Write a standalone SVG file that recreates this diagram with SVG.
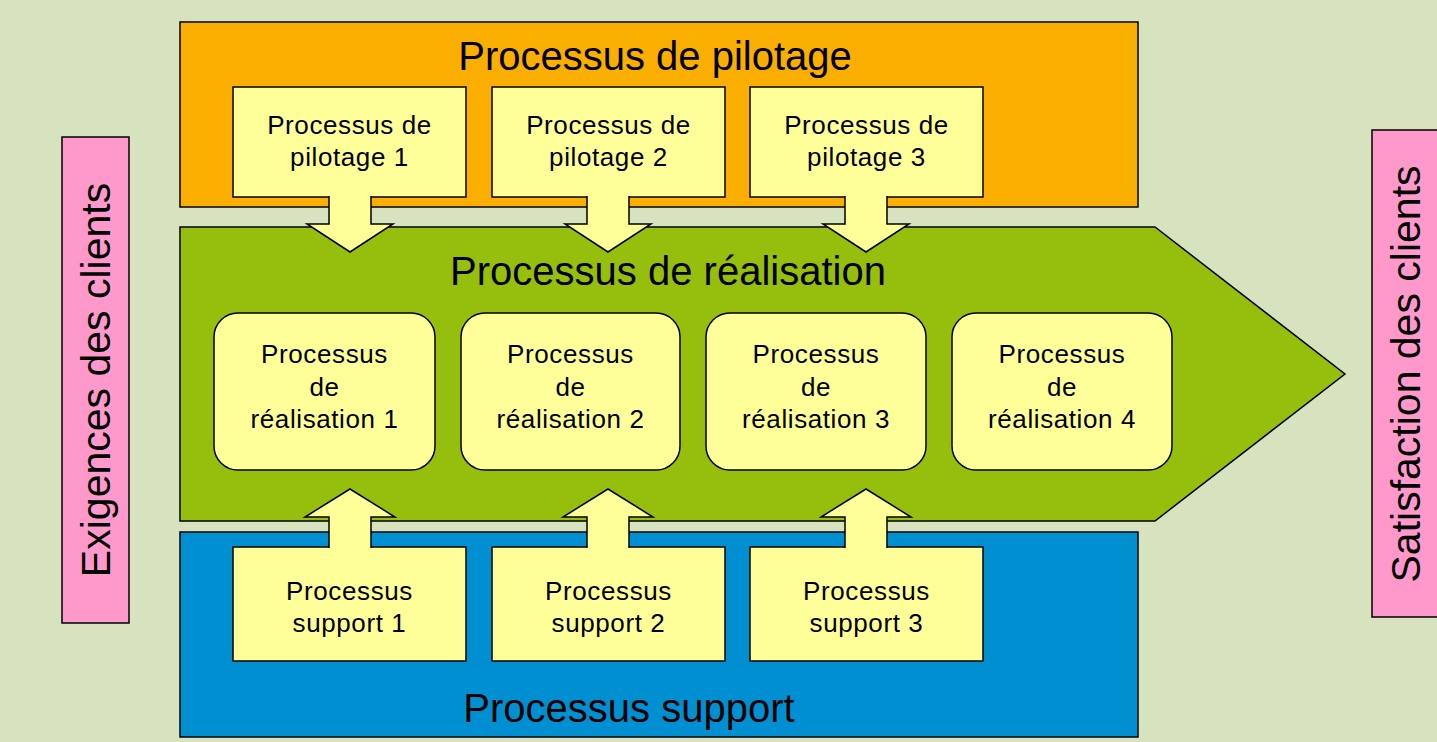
<svg xmlns="http://www.w3.org/2000/svg" width="1437" height="742" viewBox="0 0 1437 742">
<style>
text{font-family:"Liberation Sans",Arial,sans-serif;fill:#000;text-anchor:middle}
.ln{stroke:#000;stroke-width:1.5}
.yel{fill:#FFFF99}
.big{font-size:40px}
.sm{font-size:26px;letter-spacing:0.6px}
.side{font-size:41px}
.arr{fill:#FFFF99;stroke:#000;stroke-width:1.5;stroke-linejoin:miter}
</style>
<rect x="0" y="0" width="1437" height="742" fill="#D7E3BF"/>

<g id="exigences">
<rect class="ln" x="62" y="137" width="67" height="486" fill="#FF99CC"/>
<text class="side" transform="translate(110,380) rotate(-90)">Exigences des clients</text>
</g>
<g id="satisfaction">
<rect class="ln" x="1372" y="130" width="80" height="487" fill="#FF99CC"/>
<text class="side" transform="translate(1420,374) rotate(-90)">Satisfaction des clients</text>
</g>

<g id="pilotage">
<rect class="ln" x="180" y="22" width="958" height="185" fill="#F9AE00"/>
<text class="big" x="655" y="70">Processus de pilotage</text>
</g>
<g id="realisation">
<polygon class="ln" points="180,227 1155,227 1345,374 1155,521 180,521" fill="#96BE0D"/>
<text class="big" x="668" y="285">Processus de réalisation</text>
</g>
<g id="support">
<rect class="ln" x="180" y="532" width="958" height="205" fill="#0090D2"/>
<text class="big" x="629" y="722">Processus support</text>
</g>

<g id="pilotage1"><rect class="ln yel" x="233" y="87" width="233" height="110"/><text class="sm" x="349.5" y="134">Processus de</text><text class="sm" x="349.5" y="166">pilotage 1</text></g>
<g id="pilotage2"><rect class="ln yel" x="492" y="87" width="233" height="110"/><text class="sm" x="608.5" y="134">Processus de</text><text class="sm" x="608.5" y="166">pilotage 2</text></g>
<g id="pilotage3"><rect class="ln yel" x="750" y="87" width="233" height="110"/><text class="sm" x="866.5" y="134">Processus de</text><text class="sm" x="866.5" y="166">pilotage 3</text></g>

<g id="realisation1"><rect class="ln yel" x="214" y="313" width="221" height="157" rx="24"/><text class="sm" x="324.5" y="363">Processus</text><text class="sm" x="324.5" y="396">de</text><text class="sm" x="324.5" y="428">réalisation 1</text></g>
<g id="realisation2"><rect class="ln yel" x="461" y="313" width="219" height="157" rx="24"/><text class="sm" x="570.5" y="363">Processus</text><text class="sm" x="570.5" y="396">de</text><text class="sm" x="570.5" y="428">réalisation 2</text></g>
<g id="realisation3"><rect class="ln yel" x="706" y="313" width="220" height="157" rx="24"/><text class="sm" x="816" y="363">Processus</text><text class="sm" x="816" y="396">de</text><text class="sm" x="816" y="428">réalisation 3</text></g>
<g id="realisation4"><rect class="ln yel" x="952" y="313" width="220" height="157" rx="24"/><text class="sm" x="1062" y="363">Processus</text><text class="sm" x="1062" y="396">de</text><text class="sm" x="1062" y="428">réalisation 4</text></g>

<g id="support1"><rect class="ln yel" x="233" y="547" width="233" height="114"/><text class="sm" x="349.5" y="600">Processus</text><text class="sm" x="349.5" y="632">support 1</text></g>
<g id="support2"><rect class="ln yel" x="492" y="547" width="233" height="114"/><text class="sm" x="608.5" y="600">Processus</text><text class="sm" x="608.5" y="632">support 2</text></g>
<g id="support3"><rect class="ln yel" x="750" y="547" width="233" height="114"/><text class="sm" x="866.5" y="600">Processus</text><text class="sm" x="866.5" y="632">support 3</text></g>

<g id="connectors">
<path class="arr" d="M329,196 L329,224 L307,224 L350,252 L393,224 L371,224 L371,196"/>
<path class="arr" d="M587,196 L587,224 L565,224 L608,252 L651,224 L629,224 L629,196"/>
<path class="arr" d="M845,196 L845,224 L823,224 L866,252 L909,224 L887,224 L887,196"/>
<path class="arr" d="M329,548 L329,517 L305,517 L350,489 L395,517 L371,517 L371,548"/>
<path class="arr" d="M587,548 L587,517 L563,517 L608,489 L653,517 L629,517 L629,548"/>
<path class="arr" d="M845,548 L845,517 L821,517 L866,489 L911,517 L887,517 L887,548"/>
</g>
</svg>
